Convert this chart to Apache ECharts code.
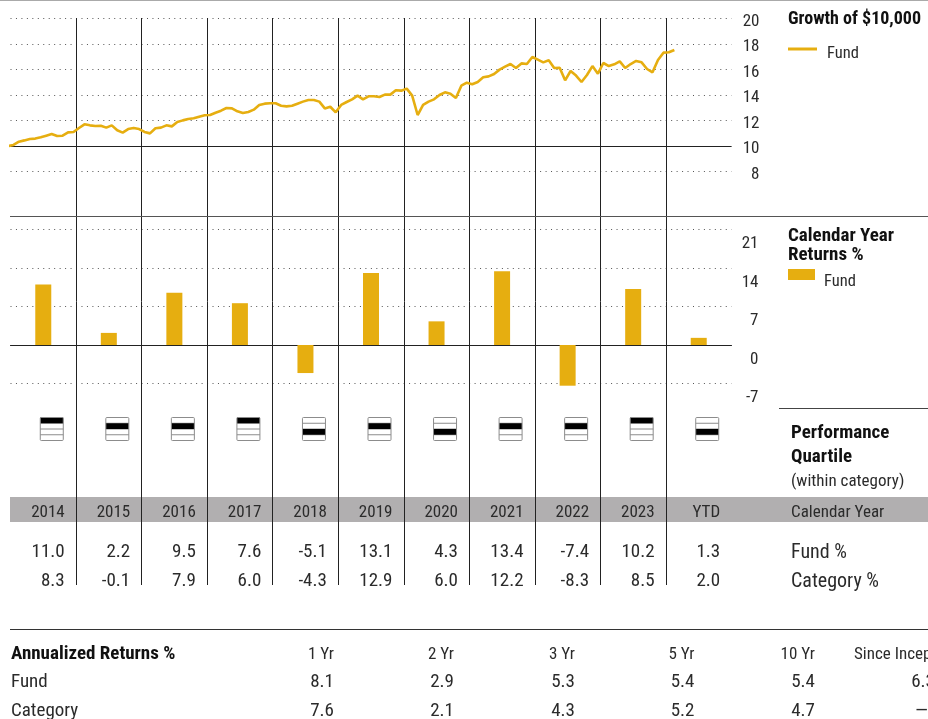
<!DOCTYPE html>
<html>
<head>
<meta charset="utf-8">
<title>Fund performance</title>
<script src="https://cdn.jsdelivr.net/npm/echarts@6/dist/echarts.min.js"></script>
<style>
  html, body { margin: 0; padding: 0; background: #fff; overflow: hidden; }
  #main { width: 928px; height: 719px; }
</style>
</head>
<body>
<div id="main"></div>
<script>
// growth of $10,000 in thousands, month ends from Dec 2013
const fundGrowth = [
  10.0, 10.08, 10.34, 10.44, 10.55, 10.58, 10.68, 10.81, 10.94, 10.78, 10.81, 11.07,
  11.1, 11.41, 11.7, 11.62, 11.57, 11.59, 11.44, 11.62, 11.23, 11.05, 11.33, 11.41,
  11.33, 11.1, 10.99, 11.39, 11.44, 11.62, 11.54, 11.88, 12.01, 12.12, 12.17, 12.3,
  12.41, 12.43, 12.61, 12.77, 12.98, 12.95, 12.72, 12.59, 12.67, 12.85, 13.22, 13.32,
  13.35, 13.35, 13.16, 13.11, 13.16, 13.32, 13.48, 13.61, 13.61, 13.48, 12.95, 13.08,
  12.64, 13.22, 13.45, 13.66, 13.95, 13.66, 13.9, 13.9, 13.84, 14.03, 14.03, 14.37,
  14.34, 14.5, 13.95, 12.43, 13.22, 13.48, 13.66, 14.0, 14.21, 14.1, 13.76, 14.73,
  14.97, 14.84, 15.02, 15.39, 15.46, 15.65, 15.99, 16.22, 16.43, 16.12, 16.48, 16.43,
  16.98, 16.77, 16.56, 16.72, 16.12, 16.14, 15.15, 15.88, 15.52, 15.02, 15.57, 16.27,
  15.67, 16.51, 16.27, 16.41, 16.64, 16.12, 16.43, 16.67, 16.56, 16.04, 15.78, 16.75,
  17.32, 17.35, 17.53
];
const periods = ["2014", "2015", "2016", "2017", "2018", "2019", "2020", "2021", "2022", "2023", "YTD"];
const fundReturns = [11.0, 2.2, 9.5, 7.6, -5.1, 13.1, 4.3, 13.4, -7.4, 10.2, 1.3];
const categoryReturns = [8.3, -0.1, 7.9, 6.0, -4.3, 12.9, 6.0, 12.2, -8.3, 8.5, 2.0];
const quartiles = [1, 2, 2, 1, 3, 2, 3, 2, 2, 1, 3];

const annualHeaders = ["1 Yr", "2 Yr", "3 Yr", "5 Yr", "10 Yr", "Since Inception"];
const annualFund = ["8.1", "2.9", "5.3", "5.4", "5.4", "6.3"];
const annualCategory = ["7.6", "2.1", "4.3", "5.2", "4.7", "—"];

const GOLD = "#e6ae10";
const INK = "#2b2b2b";
const FONT = '"Roboto Condensed", "Liberation Sans", sans-serif';
const DOTS = { color: "#555", width: 1, type: [1, 4.46] };
const LEFT = 10.5;
const WIDTH = 721;
const MONTHS = 132;

// small helpers for the text table and the side captions
const text = (x, y, str, extra) => ({
  type: "text",
  x: x,
  y: y + 2.5,
  z: 20,
  style: Object.assign({
    text: str,
    font: "17px " + FONT,
    fill: INK,
    textVerticalAlign: "middle",
  }, extra),
});
const bold = (x, y, str, size) => text(x, y, str, { font: "bold " + (size || 19) + "px " + FONT, fill: "#111" });
const row = (x, y, str, extra) => text(x, y, str, Object.assign({ font: "19px " + FONT }, extra));
const rule = (x1, y, x2, color) => ({
  type: "line",
  z: 1,
  shape: { x1: x1, y1: y, x2: x2, y2: y },
  style: { stroke: color, lineWidth: 1 },
});

const elements = [
  // band behind the year row
  { type: "rect", z: -10, shape: { x: 10, y: 497, width: 918, height: 25 }, style: { fill: "#b1afb0" } },
  rule(0, 0.5, 928, "#aaa"),
  rule(10, 216.5, 928, "#555"),
  rule(779, 408.5, 928, "#444"),
  rule(10, 629.5, 928, "#333"),

  bold(788, 17, "Growth of $10,000", 18),
  { type: "rect", z: 20, shape: { x: 788, y: 47.5, width: 29, height: 3 }, style: { fill: GOLD } },
  text(827, 51, "Fund", { font: "16.5px " + FONT }),

  bold(788, 234, "Calendar Year"),
  bold(788, 253, "Returns %"),
  { type: "rect", z: 20, shape: { x: 788, y: 269, width: 27, height: 11 }, style: { fill: GOLD } },
  text(824, 279, "Fund", { font: "16.5px " + FONT }),

  bold(791, 431, "Performance"),
  bold(791, 455, "Quartile"),
  text(791, 479, "(within category)"),
  text(791, 510, "Calendar Year"),
  row(791, 550, "Fund %", { font: "20px " + FONT }),
  row(791, 579, "Category %", { font: "20px " + FONT }),

  bold(11, 652, "Annualized Returns %"),
  row(11, 680, "Fund"),
  row(11, 709, "Category"),
];

periods.forEach((p, i) => {
  const right = 64.7 + i * (WIDTH / 11);
  elements.push(text(right, 510, p, { textAlign: "right" }));
  elements.push(row(right, 550, fundReturns[i].toFixed(1), { textAlign: "right" }));
  elements.push(row(right, 579, categoryReturns[i].toFixed(1), { textAlign: "right" }));
});

const annualRight = [334, 454, 575, 694.5, 815, 935];
annualHeaders.forEach((h, i) => {
  if (i === 5) {
    elements.push(text(854, 652, h));
  } else {
    elements.push(text(annualRight[i], 652, h, { textAlign: "right" }));
  }
  elements.push(row(annualRight[i], 680, annualFund[i], { textAlign: "right" }));
  // the dash sits inside the page edge
  elements.push(row(i === 5 ? 928 : annualRight[i], 709, annualCategory[i], { textAlign: "right" }));
});

const myChart = echarts.init(document.getElementById("main"), null, { renderer: "canvas" });

const axisText = { color: INK, fontFamily: FONT, fontSize: 17, align: "right", verticalAlign: "top" };

const option = {
  animation: false,
  backgroundColor: "#fff",
  textStyle: { fontFamily: FONT },
  graphic: { elements: elements },
  grid: [
    { left: LEFT, width: WIDTH, top: 18.5, height: 153 },  // growth line
    { left: LEFT, width: WIDTH, top: 229.5, height: 154 }, // calendar returns
    { left: LEFT + 8.5, width: WIDTH, top: 417.5, height: 23 }, // quartile boxes
    { left: LEFT, width: WIDTH, top: 18, height: 567 },    // year separators through everything
  ],
  xAxis: [
    { gridIndex: 0, type: "value", min: 0, max: MONTHS, show: false },
    {
      gridIndex: 1,
      type: "category",
      data: periods,
      axisLine: { onZero: true, lineStyle: { color: "#222", width: 1 } },
      axisTick: { show: false },
      axisLabel: { show: false },
    },
    { gridIndex: 2, type: "category", data: periods, show: false },
    {
      gridIndex: 3,
      type: "value",
      min: 0,
      max: MONTHS,
      interval: 12,
      axisLine: { show: false },
      axisTick: { show: false },
      axisLabel: { show: false },
      splitLine: { show: true, showMinLine: false, showMaxLine: false, lineStyle: { color: "#222", width: 1 } },
    },
  ],
  yAxis: [
    {
      gridIndex: 0,
      type: "value",
      position: "right",
      min: 8,
      max: 20,
      interval: 2,
      axisLine: { show: false },
      axisTick: { show: false },
      axisLabel: Object.assign({ margin: 28, lineHeight: 6 }, axisText),
      splitLine: { lineStyle: DOTS },
    },
    {
      gridIndex: 1,
      type: "value",
      position: "right",
      min: -7,
      max: 21,
      interval: 7,
      axisLine: { show: false },
      axisTick: { show: false },
      axisLabel: Object.assign({ margin: 27, lineHeight: 29 }, axisText),
      splitLine: { lineStyle: DOTS },
    },
    { gridIndex: 2, type: "value", min: 0, max: 4, inverse: true, show: false },
    { gridIndex: 3, type: "value", min: 0, max: 1, show: false },
  ],
  series: [
    {
      name: "Fund",
      type: "line",
      xAxisIndex: 0,
      yAxisIndex: 0,
      z: 5,
      clip: false,
      symbol: "none",
      lineStyle: { color: GOLD, width: 2.6 },
      data: fundGrowth.map((v, i) => [i - 0.46, v]),
      markLine: {
        silent: true,
        symbol: "none",
        label: { show: false },
        lineStyle: { color: "#222", width: 1, type: "solid" },
        data: [{ yAxis: 10 }],
      },
    },
    {
      name: "Fund",
      type: "bar",
      xAxisIndex: 1,
      yAxisIndex: 1,
      z: 5,
      clip: false,
      barWidth: 16,
      itemStyle: { color: GOLD },
      data: fundReturns,
    },
    {
      name: "Quartile",
      type: "custom",
      xAxisIndex: 2,
      yAxisIndex: 2,
      z: 5,
      data: quartiles.map((q, i) => [i, q]),
      renderItem: function (params, api) {
        const cx = api.coord([api.value(0), 0])[0];
        const w = 23;
        const x = cx - w / 2;
        const q = api.value(1);
        const rowY = (n) => api.coord([api.value(0), n])[1];
        const kids = [];
        for (let n = 1; n < 4; n++) {
          kids.push({
            type: "line",
            shape: { x1: x, y1: rowY(n), x2: x + w, y2: rowY(n) },
            style: { stroke: "#8c8c8c", lineWidth: 1 },
          });
        }
        kids.push({
          type: "rect",
          shape: { x: x, y: rowY(q - 1), width: w, height: rowY(q) - rowY(q - 1) },
          style: { fill: "#000" },
        });
        kids.push({
          type: "rect",
          shape: { x: x, y: rowY(0), width: w, height: rowY(4) - rowY(0), r: 1 },
          style: { fill: "none", stroke: "#8c8c8c", lineWidth: 1 },
        });
        return { type: "group", children: kids };
      },
    },
  ],
};

option && myChart.setOption(option);
</script>
</body>
</html>
